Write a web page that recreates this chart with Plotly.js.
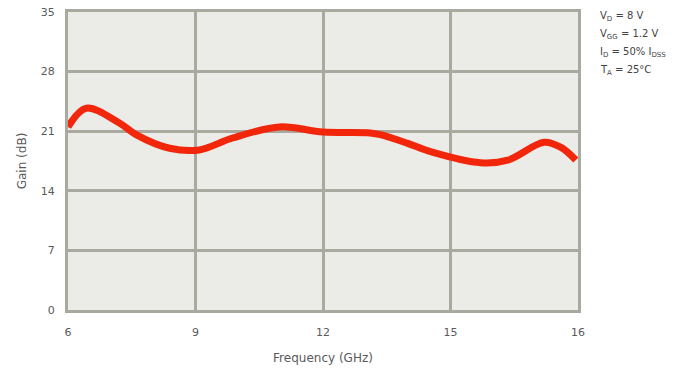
<!DOCTYPE html>
<html>
<head>
<meta charset="utf-8">
<script src="https://cdn.plot.ly/plotly-3.0.1.min.js"></script>
<style>html,body{margin:0;padding:0;background:#fff;}#chart{width:692px;height:374px;}</style>
</head>
<body>
<div id="chart"></div>
<script>
const freqGHz = [6.0, 6.43, 7.2, 7.6, 8.39, 9.09, 9.87, 10.98, 12.0, 13.11, 13.35, 13.98, 14.53, 15.71, 16.35, 17.2, 17.6, 17.95];
const gainDb  = [21.5, 23.7, 22.0, 20.6, 19.0, 18.8, 20.2, 21.5, 20.9, 20.8, 20.6, 19.6, 18.6, 17.3, 17.6, 19.7, 19.1, 17.6];
const xTickVals = [6, 9, 12, 15, 18];
const xTickText = ['6', '9', '12', '15', '16'];
const yTickVals = [0, 7, 14, 21, 28, 35];
const conditions = ['V<sub>D</sub> = 8 V', 'V<sub>GG</sub> = 1.2 V', 'I<sub>D</sub> = 50% I<sub>DSS</sub>', 'T<sub>A</sub> = 25°C'];

const fontFam = 'DejaVu Sans, Arial, sans-serif';
const gridCol = '#a9a9a0';
const textCol = '#5a5a5a';

const trace = {
  x: freqGHz, y: gainDb, type: 'scatter', mode: 'lines',
  line: {color: '#f2260a', width: 7, shape: 'spline', smoothing: 1},
  hoverinfo: 'skip'
};

const annotations = conditions.map((t, i) => ({
  xref: 'paper', yref: 'paper', x: 1.04, y: 0.985 - i * 0.06,
  xanchor: 'left', yanchor: 'middle', showarrow: false, align: 'left',
  text: t, font: {family: fontFam, size: 10, color: '#444'}
}));

const layout = {
  width: 692, height: 374,
  margin: {l: 68, r: 114, t: 12, b: 64},
  paper_bgcolor: '#ffffff', plot_bgcolor: '#ebebe7',
  showlegend: false,
  font: {family: fontFam, size: 11, color: textCol},
  xaxis: {
    range: [6, 18], tickvals: xTickVals, ticktext: xTickText,
    showgrid: true, gridcolor: gridCol, gridwidth: 3, zeroline: false,
    showline: true, linecolor: gridCol, linewidth: 3, mirror: true,
    ticks: '', ticklabelstandoff: 10, tickfont: {family: fontFam, size: 11, color: textCol},
    title: {text: 'Frequency (GHz)', font: {family: fontFam, size: 12, color: textCol}, standoff: 16}
  },
  yaxis: {
    range: [0, 35], tickvals: yTickVals,
    showgrid: true, gridcolor: gridCol, gridwidth: 3, zeroline: false,
    showline: true, linecolor: gridCol, linewidth: 3, mirror: true,
    ticks: '', ticklabelstandoff: 8, tickfont: {family: fontFam, size: 11, color: textCol},
    title: {text: 'Gain (dB)', font: {family: fontFam, size: 12, color: textCol}, standoff: 12}
  },
  annotations: annotations
};

Plotly.newPlot('chart', [trace], layout, {displayModeBar: false, staticPlot: true});
</script>
</body>
</html>
